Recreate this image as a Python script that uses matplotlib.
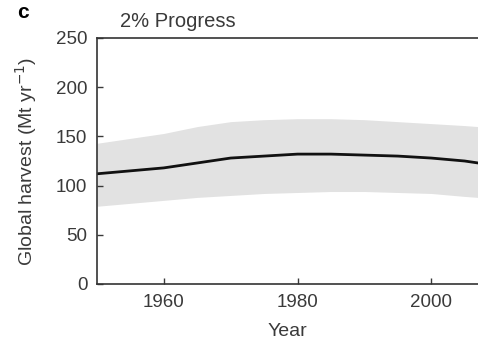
import matplotlib
matplotlib.use("Agg")
import matplotlib.pyplot as plt

plt.rcParams['font.family'] = ['Liberation Sans', 'DejaVu Sans']

years = [1950, 1955, 1960, 1965, 1970, 1975, 1980, 1985, 1990, 1995, 2000, 2005, 2007]
median = [112, 115, 118, 123, 128, 130, 132, 132, 131, 130, 128, 125, 123]
upper = [143, 148, 153, 160, 165, 167, 168, 168, 167, 165, 163, 161, 160]
lower = [79, 82, 85, 88, 90, 92, 93, 94, 94, 93, 92, 89, 88]

txt = '#3a3a3a'
fig = plt.figure(figsize=(4.78, 3.43), dpi=100)
ax = fig.add_axes([97/478, 1 - 284/343, 1 - 97/478, (284 - 38)/343])

ax.fill_between(years, lower, upper, color='#e2e2e2', linewidth=0)
ax.plot(years, median, color='#111111', linewidth=2)

ax.set_xlim(1950, 2007)
ax.set_ylim(0, 250)
ax.set_xticks([1960, 1980, 2000])
ax.set_yticks([0, 50, 100, 150, 200, 250])
ax.tick_params(direction='in', length=4, labelsize=13.5, colors=txt, width=1, pad=7)
for s in ['left', 'bottom', 'top']:
    ax.spines[s].set_color('#333333')
    ax.spines[s].set_linewidth(1.2)
ax.spines['right'].set_visible(False)

ax.set_xlabel('Year', fontsize=14, color=txt, labelpad=9)
ax.set_ylabel('Global harvest (Mt yr$^{-1}$)', fontsize=14, color=txt, labelpad=12)
ax.set_title('2% Progress', fontsize=14.5, color=txt, loc='left', x=0.06, pad=8)
fig.text(17/478, 1 - 13/343, 'c', fontsize=15, fontweight='bold', va='center', ha='left')

fig.savefig('out.png', dpi=100)
